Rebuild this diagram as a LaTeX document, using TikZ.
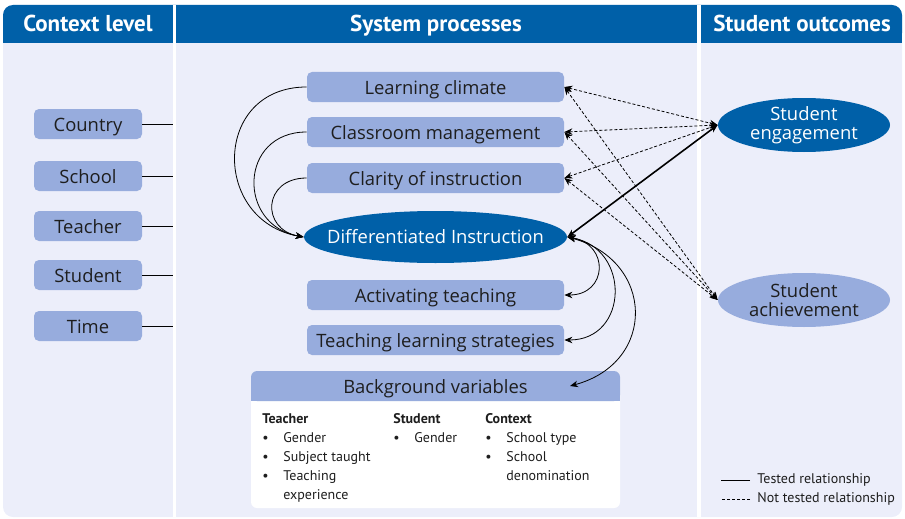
\documentclass[tikz,border=0pt]{standalone}
\usepackage{fontspec}
\setmainfont{Open Sans}
\newfontfamily\condfont{PT Sans}
\usetikzlibrary{arrows.meta,shapes.geometric}

\definecolor{headblue}{RGB}{0,96,168}
\definecolor{boxblue}{RGB}{151,172,221}
\definecolor{paleblue}{RGB}{236,238,250}
\definecolor{inkgray}{RGB}{30,30,30}

\newcommand{\bul}{\makebox[21pt][l]{\textbullet}}

\begin{document}
\begin{tikzpicture}[x=1pt,y=-1pt,>={Stealth[length=8pt,width=6.5pt]},line width=.8pt,
  lvl/.style={rounded corners=5pt,fill=boxblue,text=inkgray,minimum width=108pt,minimum height=30pt,inner sep=0pt,text height=15pt,text depth=0pt,font=\fontsize{18.4}{20}\selectfont},
  proc/.style={lvl,minimum width=257pt},
  outc/.style={ellipse,minimum width=172pt,minimum height=54pt,inner sep=0pt,align=center,font=\fontsize{18.4}{19}\selectfont},
  head/.style={text=white,text height=16pt,text depth=0pt,font=\condfont\bfseries\fontsize{23}{25}\selectfont},
  item/.style={anchor=north west,inner sep=0pt,text=inkgray,font=\condfont\fontsize{14}{19}\selectfont},
  untested/.style={dash pattern=on 3pt off 2pt}]
\useasboundingbox (0,0) rectangle (905,519);
% panels
\fill[paleblue,rounded corners=10pt] (3,5) rectangle (902,517);
\fill[headblue,rounded corners=10pt] (3,5) rectangle (902,43);
\fill[headblue] (3,25) rectangle (902,43);
\fill[white] (173,5) rectangle (176,517);
\fill[white] (697,5) rectangle (701,517);
\coordinate (colgap) at (173,0);
\node[head] (hctx) at (88,24) {Context level};
\node[head] (hsys) at (436,24) {System processes};
\node[head] (hout) at (802,24) {Student outcomes};

% context levels
\foreach \name/\txt/\y in {country/Country/124,school/School/176,teacher/Teacher/226,student/Student/275,time/Time/326}{
  \node[lvl] (\name) at (88,\y) {\txt};
  \draw (\name.east) -- (\name.east -| colgap);
}

% system processes
\node[proc] (climate) at (435.5,87) {Learning climate};
\node[proc] (manage) at (435.5,132) {Classroom management};
\node[proc] (clarity) at (435.5,178) {Clarity of instruction};
\node[outc,fill=headblue,text=white,minimum width=263pt,minimum height=52pt,inner xsep=-18pt,text height=13pt,text depth=0pt] (diff) at (435.5,237) {Differentiated Instruction};
\node[proc] (activ) at (435.5,295) {Activating teaching};
\node[proc] (strat) at (435.5,340) {Teaching learning strategies};

% background variables
\fill[white,rounded corners=6pt] (251,371) rectangle (620,508);
\fill[boxblue,rounded corners=6pt] (251,371) rectangle (620,401);
\fill[boxblue] (251,390) rectangle (620,401);
\node[text=inkgray,text height=15pt,text depth=0pt,font=\fontsize{18.4}{20}\selectfont] (bgvar) at (435.5,386) {Background variables};
\coordinate (bgin) at (570,386);
\node[item] (tlist) at (262,410) {\begin{tabular}{@{}l@{}}\textbf{Teacher}\\ \bul Gender\\ \bul Subject taught\\ \bul Teaching\\ \hspace{21pt}experience\end{tabular}};
\node[item] (slist) at (393,410) {\begin{tabular}{@{}l@{}}\textbf{Student}\\ \bul Gender\end{tabular}};
\node[item] (clist) at (485,410) {\begin{tabular}{@{}l@{}}\textbf{Context}\\ \bul School type\\ \bul School\\ \hspace{21pt}denomination\end{tabular}};

% outcomes
\node[outc,fill=headblue,text=white] (engage) at (804,125) {Student\\engagement};
\node[outc,fill=boxblue,text=inkgray] (achieve) at (804,300) {Student\\achievement};

% relations
\foreach \p in {climate,manage,clarity}{
  \draw[<->,untested] (\p.east) -- (engage.west);
  \draw[<->,untested] (\p.east) -- (achieve.west);
}
\draw[<->,line width=1.6pt] (diff.east) -- (engage.west);
\draw[->] (climate.west) to[out=180,in=170,looseness=1.6] (diff.west);
\draw[->] (manage.west) to[out=180,in=170,looseness=1.65] (diff.west);
\draw[->] (clarity.west) to[out=180,in=170,looseness=1.9] (diff.west);
\draw[<->] (diff.east) to[out=-10,in=0,looseness=1.9] (activ.east);
\draw[<->] (diff.east) to[out=-10,in=0,looseness=1.6] (strat.east);
\draw[<->] (diff.east) to[out=-15,in=15,looseness=1.55] (bgin);

% legend
\node[item,anchor=west] (tested) at (757,480) {Tested relationship};
\node[item,anchor=west] (nottested) at (757,499) {Not tested relationship};
\draw ([xshift=-7pt]tested.west) -- ++(-29,0);
\draw[untested] ([xshift=-7pt]nottested.west) -- ++(-29,0);
\end{tikzpicture}
\end{document}
